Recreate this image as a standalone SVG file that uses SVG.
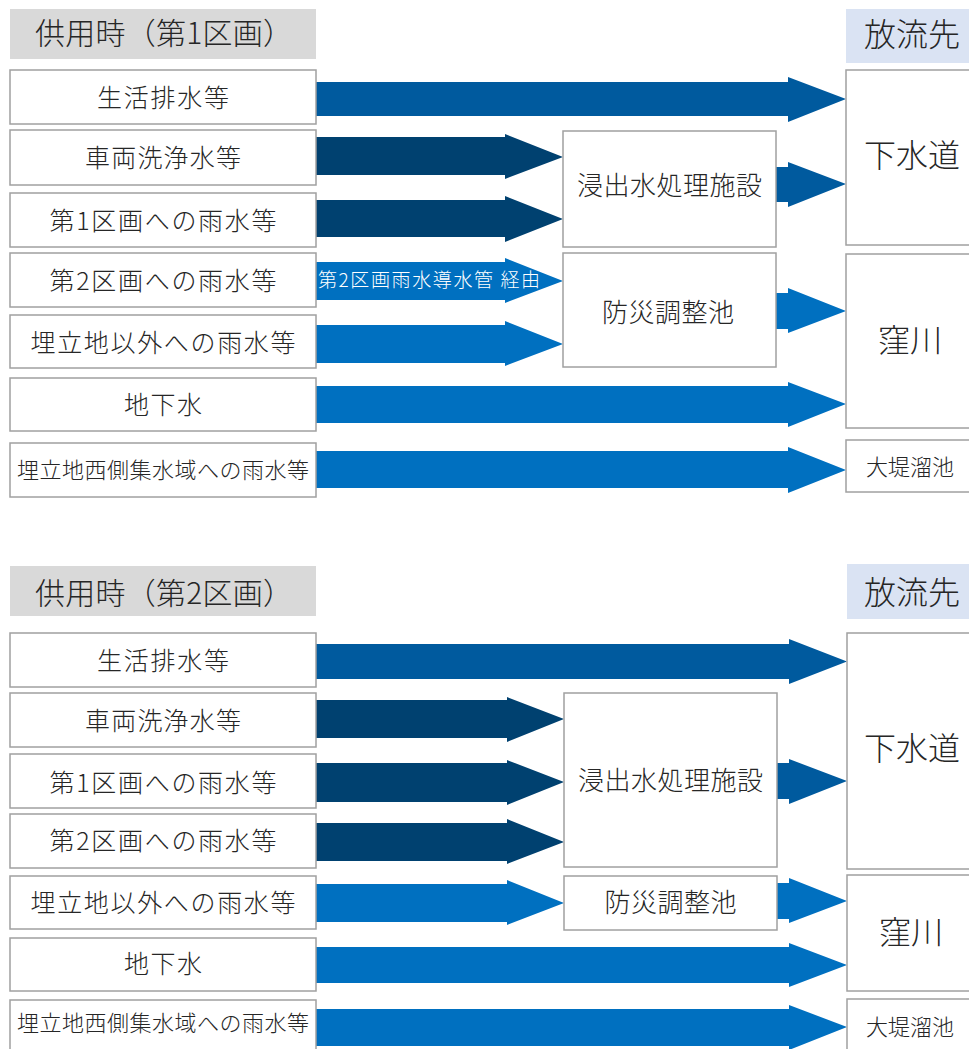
<svg xmlns="http://www.w3.org/2000/svg" width="969" height="1049" viewBox="0 0 969 1049">
<style>
.bx{fill:#fff;stroke:#a0a0a0;stroke-width:1.5}
.hd{fill:#d9d9d9}
.hd2{fill:#dae3f3}
.t{font-family:"Noto Sans CJK JP","Noto Sans",sans-serif;font-weight:300;fill:#262626;text-anchor:middle}
.l{font-size:25px}
.s{font-size:22px}
.m{font-size:26px}
.g{font-size:32px}
.h{font-size:30px;text-anchor:start}
.dk{fill:#004170}
.md{fill:#005a9e}
.lt{fill:#0070c0}
.w{font-family:"Noto Sans CJK JP","Noto Sans",sans-serif;font-weight:300;fill:#fff;font-size:19px;text-anchor:middle}
</style>
<rect width="969" height="1049" fill="#fff"/>
<!-- ===== Panel 1 ===== -->
<g id="title1"><rect class="hd" x="10" y="9" width="306" height="50"/><text class="t h" x="35" y="44" textLength="258">供用時（第1区画）</text></g>
<g id="dest1"><rect class="hd2" x="846" y="9" width="130" height="54"/><text class="t g" x="912" y="46">放流先</text></g>
<g id="connectors1">
<polygon class="md" points="316,82 788,82 788,77 846,99 788,122 788,116 316,116"/>
<polygon class="dk" points="316,137 505,137 505,134 563,157 505,179 505,175 316,175"/>
<polygon class="dk" points="316,200 505,200 505,196 563,219 505,242 505,237 316,237"/>
<polygon class="lt" points="316,262 505,262 505,258 563,281 505,303 505,300 316,300"/>
<polygon class="lt" points="316,325 505,325 505,321 563,344 505,366 505,363 316,363"/>
<polygon class="lt" points="316,386 788,386 788,382 846,404 788,427 788,423 316,423"/>
<polygon class="lt" points="316,451 788,451 788,447 846,470 788,493 788,488 316,488"/>
<polygon class="md" points="776,167 788,167 788,162 846,184 788,207 788,202 776,202"/>
<polygon class="lt" points="776,293 788,293 788,288 846,311 788,333 788,329 776,329"/>
<text class="w" x="429" y="287" textLength="222">第2区画雨水導水管 経由</text>
</g>
<g id="src1-1"><rect class="bx" x="10" y="70" width="306" height="54"/><text class="t l" x="163" y="106.5" textLength="132">生活排水等</text></g>
<g id="src1-2"><rect class="bx" x="10" y="130" width="306" height="55"/><text class="t l" x="163" y="166.5" textLength="156">車両洗浄水等</text></g>
<g id="src1-3"><rect class="bx" x="10" y="193" width="306" height="54"/><text class="t l" x="163" y="229.5" textLength="227">第1区画への雨水等</text></g>
<g id="src1-4"><rect class="bx" x="10" y="253" width="306" height="54"/><text class="t l" x="163" y="289.5" textLength="227">第2区画への雨水等</text></g>
<g id="src1-5"><rect class="bx" x="10" y="315" width="306" height="53"/><text class="t l" x="163" y="351.5" textLength="265">埋立地以外への雨水等</text></g>
<g id="src1-6"><rect class="bx" x="10" y="378" width="306" height="53"/><text class="t l" x="163" y="413.5" textLength="78">地下水</text></g>
<g id="src1-7"><rect class="bx" x="10" y="443" width="306" height="54"/><text class="t s" x="163" y="478" textLength="292">埋立地西側集水域への雨水等</text></g>
<g id="leach1"><rect class="bx" x="563" y="131" width="213" height="116"/><text class="t m" x="669.5" y="195" textLength="185">浸出水処理施設</text></g>
<g id="pond1"><rect class="bx" x="563" y="253" width="213" height="114"/><text class="t m" x="668" y="322" textLength="132">防災調整池</text></g>
<g id="sewer1"><rect class="bx" x="846" y="70" width="130" height="175"/><text class="t g" x="912" y="167">下水道</text></g>
<g id="river1"><rect class="bx" x="846" y="254" width="130" height="174"/><text class="t g" x="910" y="352">窪川</text></g>
<g id="tank1"><rect class="bx" x="846" y="440" width="130" height="52"/><text class="t s" x="910" y="475">大堤溜池</text></g>
<!-- ===== Panel 2 ===== -->
<g id="title2"><rect class="hd" x="10" y="566" width="306" height="50"/><text class="t h" x="35" y="604" textLength="258">供用時（第2区画）</text></g>
<g id="dest2"><rect class="hd2" x="847" y="564" width="130" height="55"/><text class="t g" x="912" y="604">放流先</text></g>
<g id="connectors2">
<polygon class="md" points="316,644 789,644 789,639 847,661.5 789,684 789,679 316,679"/>
<polygon class="dk" points="316,700 507,700 507,697 564,719 507,742 507,738 316,738"/>
<polygon class="dk" points="316,763 507,763 507,760 564,782 507,805 507,802 316,802"/>
<polygon class="dk" points="316,823 507,823 507,819 564,842 507,864 507,861 316,861"/>
<polygon class="lt" points="316,884 507,884 507,880 564,903 507,925 507,922 316,922"/>
<polygon class="lt" points="316,947 789,947 789,943 847,965 789,987 789,983 316,983"/>
<polygon class="lt" points="316,1009 789,1009 789,1005 847,1027 789,1050 789,1046 316,1046"/>
<polygon class="md" points="777,763 789,763 789,759 847,781 789,804 789,799 777,799"/>
<polygon class="lt" points="777,883 789,883 789,878 847,901 789,923 789,919 777,919"/>
</g>
<g id="src2-1"><rect class="bx" x="10" y="633" width="306" height="54"/><text class="t l" x="163" y="669.5" textLength="132">生活排水等</text></g>
<g id="src2-2"><rect class="bx" x="10" y="693" width="306" height="54"/><text class="t l" x="163" y="729.5" textLength="156">車両洗浄水等</text></g>
<g id="src2-3"><rect class="bx" x="10" y="754" width="306" height="54"/><text class="t l" x="163" y="791.5" textLength="227">第1区画への雨水等</text></g>
<g id="src2-4"><rect class="bx" x="10" y="814" width="306" height="54"/><text class="t l" x="163" y="849.5" textLength="227">第2区画への雨水等</text></g>
<g id="src2-5"><rect class="bx" x="10" y="876" width="306" height="53"/><text class="t l" x="163" y="911.5" textLength="265">埋立地以外への雨水等</text></g>
<g id="src2-6"><rect class="bx" x="10" y="938" width="306" height="53"/><text class="t l" x="163" y="972.5" textLength="78">地下水</text></g>
<g id="src2-7"><rect class="bx" x="10" y="1000" width="306" height="56"/><text class="t s" x="163" y="1031" textLength="292">埋立地西側集水域への雨水等</text></g>
<g id="leach2"><rect class="bx" x="564" y="693" width="213" height="174"/><text class="t m" x="670.5" y="790" textLength="185">浸出水処理施設</text></g>
<g id="pond2"><rect class="bx" x="564" y="876" width="213" height="54"/><text class="t m" x="670.5" y="912" textLength="132">防災調整池</text></g>
<g id="sewer2"><rect class="bx" x="847" y="633" width="130" height="236"/><text class="t g" x="912" y="760">下水道</text></g>
<g id="river2"><rect class="bx" x="847" y="875" width="130" height="116"/><text class="t g" x="911" y="944">窪川</text></g>
<g id="tank2"><rect class="bx" x="847" y="999" width="130" height="60"/><text class="t s" x="910" y="1035">大堤溜池</text></g>
</svg>
